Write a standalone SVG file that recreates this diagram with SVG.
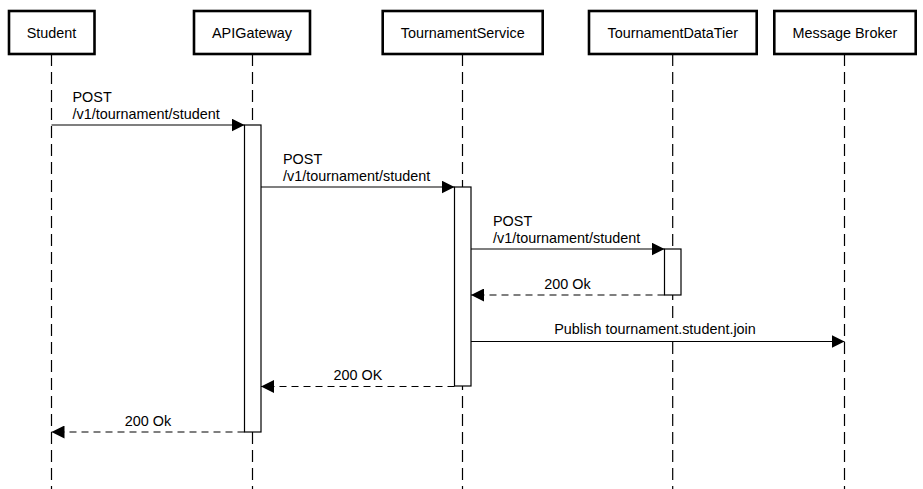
<svg xmlns="http://www.w3.org/2000/svg" width="923" height="489" viewBox="0 0 923 489">
<style>
.box{fill:#fff;stroke:#000;stroke-width:2.6}
.life{stroke:#000;stroke-width:1.2;stroke-dasharray:12 6;fill:none}
.act{fill:#fff;stroke:#000;stroke-width:1.2}
.msg{stroke:#000;stroke-width:1.2;fill:none}
.ret{stroke:#000;stroke-width:1.2;fill:none;stroke-dasharray:7 5}
.bg{fill:#fff}
text{font-family:"Liberation Sans",Arial,sans-serif;font-size:14.4px;fill:#000}
.c{text-anchor:middle}
</style>
<defs>
<marker id="ah" markerUnits="userSpaceOnUse" markerWidth="14" markerHeight="13" refX="13" refY="6.5" orient="auto">
<path d="M0,0 L13,6.5 L0,13 z" fill="#000"/>
</marker>
</defs>
<g id="lifelines">
<line class="life" x1="51.5" y1="54" x2="51.5" y2="489"/>
<line class="life" x1="252.5" y1="54" x2="252.5" y2="489"/>
<line class="life" x1="462.5" y1="54" x2="462.5" y2="489"/>
<line class="life" x1="672.7" y1="54" x2="672.7" y2="489"/>
<line class="life" x1="844.5" y1="54" x2="844.5" y2="489"/>
</g>
<g id="Student"><rect class="box" x="9" y="11" width="85.5" height="43"/><text class="c" x="51.5" y="37.5">Student</text></g>
<g id="APIGateway"><rect class="box" x="194" y="11" width="116" height="43"/><text class="c" x="252" y="37.5">APIGateway</text></g>
<g id="TournamentService"><rect class="box" x="382.7" y="11" width="160" height="43"/><text class="c" x="462.7" y="37.5">TournamentService</text></g>
<g id="TournamentDataTier"><rect class="box" x="589" y="11" width="167.7" height="43"/><text class="c" x="672.8" y="37.5">TournamentDataTier</text></g>
<g id="MessageBroker"><rect class="box" x="774.3" y="11" width="141.4" height="43"/><text class="c" x="845" y="37.5">Message Broker</text></g>
<g id="activations">
<rect class="act" x="244.5" y="125" width="16.5" height="307"/>
<rect class="act" x="454.5" y="187" width="16.5" height="199"/>
<rect class="act" x="664.5" y="249" width="16.5" height="46"/>
</g>
<g id="connectors">
<line class="msg" x1="51.5" y1="125" x2="244.5" y2="125" marker-end="url(#ah)"/>
<line class="msg" x1="261" y1="187" x2="454.5" y2="187" marker-end="url(#ah)"/>
<line class="msg" x1="471" y1="249" x2="664.5" y2="249" marker-end="url(#ah)"/>
<line class="ret" x1="664.5" y1="295" x2="471" y2="295" marker-end="url(#ah)"/>
<line class="msg" x1="471" y1="341.5" x2="844.5" y2="341.5" marker-end="url(#ah)"/>
<line class="ret" x1="454.5" y1="386.5" x2="261" y2="386.5" marker-end="url(#ah)"/>
<line class="ret" x1="244.5" y1="432" x2="51.5" y2="432" marker-end="url(#ah)"/>
</g>
<g id="labels">
<text x="72.5" y="102">POST</text>
<text x="72.5" y="119">/v1/tournament/student</text>
<text x="283" y="164">POST</text>
<text x="283" y="181">/v1/tournament/student</text>
<text x="493" y="226">POST</text>
<text x="493" y="243">/v1/tournament/student</text>
<text class="c" x="567.5" y="288.5">200 Ok</text>
<rect class="bg" x="552" y="320" width="206" height="18"/>
<text class="c" x="655" y="333.5">Publish tournament.student.join</text>
<text class="c" x="358" y="380">200 OK</text>
<text class="c" x="148" y="426">200 Ok</text>
</g>
</svg>
